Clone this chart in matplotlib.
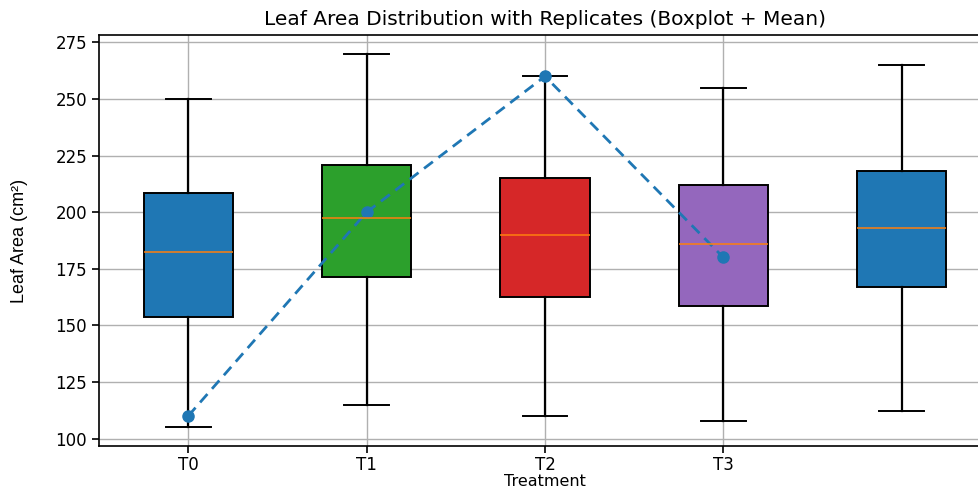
import matplotlib
matplotlib.use("Agg")
import matplotlib.pyplot as plt

# box statistics
labels = ["T0", "T1", "T2", "T3"]
whislo = [105, 115, 110, 108, 112]
q1 = [153.5, 171.5, 162.5, 158.5, 167]
med = [182.5, 197.5, 190, 186, 193]
q3 = [208.5, 221, 215, 212, 218]
whishi = [250, 270, 260, 255, 265]
means = [110, 200, 260, 180]
colors = ["tab:blue", "tab:green", "tab:red", "tab:purple"]

stats = []
for i in range(len(med)):
    stats.append({"whislo": whislo[i], "q1": q1[i], "med": med[i],
                  "q3": q3[i], "whishi": whishi[i], "fliers": []})

fig = plt.figure(figsize=(9.79, 4.9), dpi=100)
ax = fig.add_axes([99 / 979, 44 / 490, 892 / 979, 411 / 490])

bp = ax.bxp(stats, patch_artist=True, showfliers=False,
            boxprops=dict(linewidth=1.4),
            whiskerprops=dict(linewidth=1.6),
            capprops=dict(linewidth=1.4),
            medianprops=dict(linewidth=1.1))
for i, box in enumerate(bp["boxes"]):
    box.set_facecolor(colors[i % len(colors)])
    box.set_edgecolor("black")

ax.plot(range(1, len(means) + 1), means, "o--", color="tab:blue",
        linewidth=2, markersize=8, dashes=(4, 2.5))

ax.set_xticks(range(1, len(labels) + 1))
ax.set_xticklabels(labels)
ax.set_xlim(0.5, 5.5)
ax.set_ylim(96.75, 278.25)
ax.tick_params(labelsize=12, width=1.2, length=5)
ax.tick_params(axis="x", pad=2.5)
for s in ax.spines.values():
    s.set_linewidth(1.2)
ax.grid(True, linewidth=1.0, color="#b0b0b0")
ax.set_title("Leaf Area Distribution with Replicates (Boxplot + Mean)", fontsize=14.5, pad=7)
ax.set_xlabel("Treatment", fontsize=11.5, labelpad=0)
ax.set_ylabel("Leaf Area (cm²)", family=["Liberation Sans Narrow", "Liberation Sans", "DejaVu Sans"], fontsize=13)
ax.yaxis.set_label_coords(-0.08, 0.5)

fig.savefig("out.png", dpi=100)
